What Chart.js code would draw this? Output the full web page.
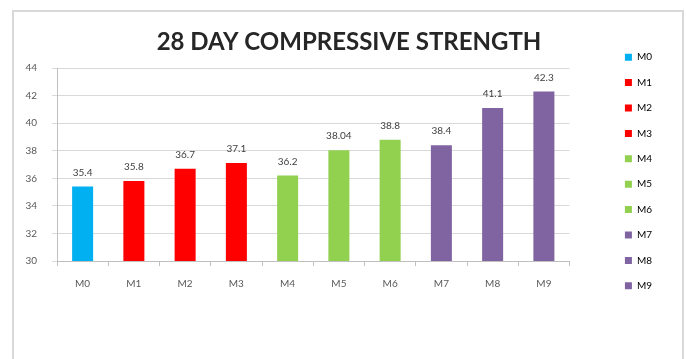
<!DOCTYPE html>
<html>
<head>
<meta charset="utf-8">
<script src="https://cdn.jsdelivr.net/npm/chart.js@4"></script>
<style>
  html, body { margin: 0; padding: 0; background: #fff; }
  #wrap { position: relative; width: 686px; height: 359px; overflow: hidden; }
  #frame { position: absolute; left: 12px; top: 10px; width: 668px; height: 400px; border: 2px solid #d9d9d9; }
  canvas { position: absolute; left: 0; top: 0; }
</style>
</head>
<body>
<div id="wrap">
  <div id="frame"></div>
  <canvas id="strength-chart" width="686" height="359"></canvas>
</div>
<script>
const mixes = ["M0", "M1", "M2", "M3", "M4", "M5", "M6", "M7", "M8", "M9"]
const strength = [35.4, 35.8, 36.7, 37.1, 36.2, 38.04, 38.8, 38.4, 41.1, 42.3]
const barColors = [
    "#00b0f0",
    "#ff0000", "#ff0000", "#ff0000",
    "#92d050", "#92d050", "#92d050",
    "#8064a2", "#8064a2", "#8064a2"
]
const yTicks = [30, 32, 34, 36, 38, 40, 42, 44]

const textGray = "#595959"
const font = "Lato, 'Liberation Sans', sans-serif"

// value labels above each bar
const valueLabels = {
    id: 'valueLabels',
    afterDatasetsDraw(chart) {
        const ctx = chart.ctx
        const meta = chart.getDatasetMeta(0)
        ctx.save()
        ctx.font = "10px " + font
        ctx.fillStyle = "#404040"
        ctx.textAlign = "center"
        ctx.textBaseline = "middle"
        meta.data.forEach((bar, i) => {
            ctx.fillText(String(strength[i]), bar.x, bar.y - 14)
        })
        ctx.restore()
    }
}

// the title sits a little right of the canvas centre in the reference
const titleShift = {
    id: 'titleShift',
    afterLayout(chart) {
        if (chart.titleBlock) {
            chart.titleBlock.left += 6
            chart.titleBlock.right += 6
        }
    }
}

new Chart(document.getElementById("strength-chart").getContext("2d"), {
    type: 'bar',
    data: {
        labels: mixes,
        datasets: [{
            data: strength,
            backgroundColor: barColors,
            barPercentage: 0.41,
            categoryPercentage: 1
        }]
    },
    options: {
        responsive: false,
        animation: false,
        layout: {
            padding: { left: 24, right: 24, top: 0, bottom: 16 }
        },
        scales: {
            x: {
                grid: { drawOnChartArea: false, tickLength: 5, color: "#bfbfbf" },
                border: { color: "#bfbfbf" },
                ticks: { color: textGray, font: { family: font, size: 10 }, padding: 12 },
                afterFit: s => { s.height = 82 }
            },
            y: {
                min: 30,
                max: 44,
                afterBuildTicks: s => { s.ticks = yTicks.map(v => ({ value: v })) },
                grid: { color: "#d9d9d9", tickLength: 5 },
                border: { color: "#bfbfbf" },
                ticks: { color: textGray, font: { family: font, size: 10 }, padding: 15 },
                afterFit: s => { s.width = 33 }
            },
            gap: {
                position: 'right',
                display: true,
                grid: { display: false },
                border: { display: false },
                ticks: { display: false },
                afterFit: s => { s.width = 40 }
            }
        },
        plugins: {
            title: {
                display: true,
                text: '28 DAY COMPRESSIVE STRENGTH',
                color: "#262626",
                font: { family: font, size: 24, weight: 'bold', lineHeight: 1.2 },
                padding: { top: 27.6, bottom: 11.6 }
            },
            legend: {
                position: 'right',
                align: 'center',
                labels: {
                    color: textGray,
                    font: { family: font, size: 10 },
                    boxWidth: 7,
                    boxHeight: 7,
                    padding: 15.4,
                    generateLabels: () => mixes.map((m, i) => ({
                        text: m,
                        fillStyle: barColors[i],
                        strokeStyle: barColors[i],
                        lineWidth: 0,
                        index: i
                    }))
                }
            },
            tooltip: { enabled: false }
        }
    },
    plugins: [valueLabels, titleShift]
})
</script>
</body>
</html>
